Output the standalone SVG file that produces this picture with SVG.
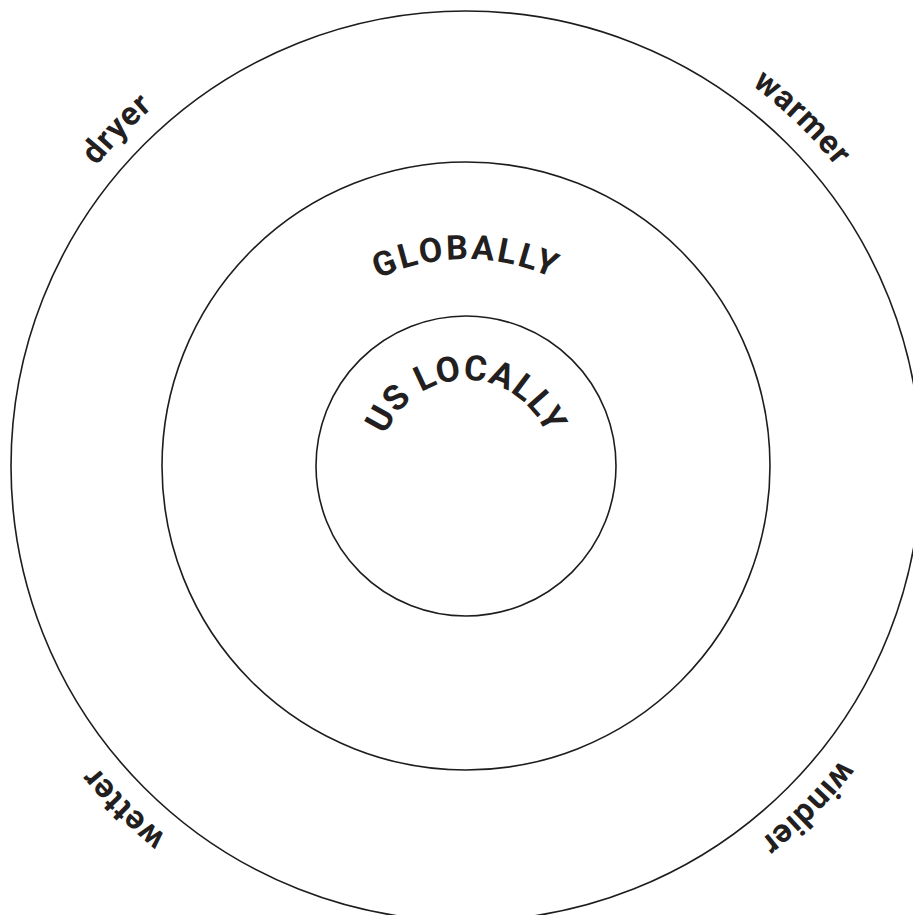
<svg xmlns="http://www.w3.org/2000/svg" xmlns:xlink="http://www.w3.org/1999/xlink" width="913" height="915" viewBox="0 0 913 915">
<style>
.ring{fill:none;stroke:#1e1c1c;stroke-width:1.6}
.lbl{font-family:Roboto,"Liberation Sans",sans-serif;font-weight:700;fill:#231f20}
.outer{font-size:33px;letter-spacing:1px}
.mid{font-size:34px;letter-spacing:2.5px}
.inner{font-size:35px;letter-spacing:1px}
</style>
<defs>
<path id="pDryer" d="M -8.8 432.8 A 476 476 0 0 1 416.2 -7.4"/>
<path id="pWarmer" d="M 499.2 -8.8 A 476 476 0 0 1 939.4 416.2"/>
<path id="pWindier" d="M 940.2 507.5 A 476 476 0 0 1 507.5 940.2"/>
<path id="pWetter" d="M 424.5 940.2 A 476 476 0 0 1 -8.2 507.5"/>
<path id="pGlobal" d="M 307.2 332.8 A 208 208 0 0 1 624.8 332.8"/>
<path id="pLocal" d="M 380 466 A 86 86 0 0 1 552 466"/>
</defs>
<rect width="913" height="915" fill="#ffffff"/>
<g id="outer-ring"><circle class="ring" cx="466" cy="466" r="455"/></g>
<g id="middle-ring"><circle class="ring" cx="466" cy="466" r="304"/></g>
<g id="inner-ring"><circle class="ring" cx="466" cy="466" r="150"/></g>
<g id="label-globally"><text class="lbl mid" text-anchor="middle"><textPath xlink:href="#pGlobal" href="#pGlobal" startOffset="50%">GLOBALLY</textPath></text></g>
<g id="label-us-locally"><text class="lbl inner" text-anchor="middle"><textPath xlink:href="#pLocal" href="#pLocal" startOffset="50%">US LOCALLY</textPath></text></g>
<g id="label-dryer"><text class="lbl outer" text-anchor="middle"><textPath xlink:href="#pDryer" href="#pDryer" startOffset="50%">dryer</textPath></text></g>
<g id="label-warmer"><text class="lbl outer" text-anchor="middle"><textPath xlink:href="#pWarmer" href="#pWarmer" startOffset="50%">warmer</textPath></text></g>
<g id="label-windier"><text class="lbl outer" text-anchor="middle"><textPath xlink:href="#pWindier" href="#pWindier" startOffset="50%">windier</textPath></text></g>
<g id="label-wetter"><text class="lbl outer" text-anchor="middle"><textPath xlink:href="#pWetter" href="#pWetter" startOffset="50%">wetter</textPath></text></g>
<g id="connectors"></g>
</svg>
